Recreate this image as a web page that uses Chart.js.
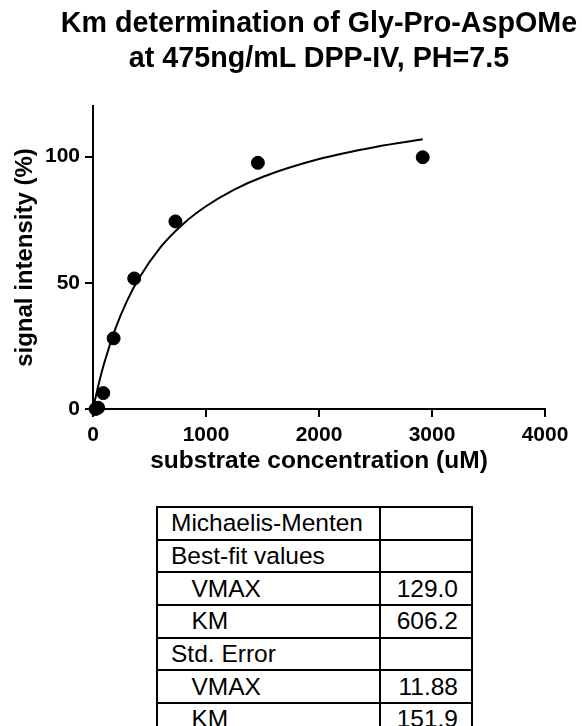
<!DOCTYPE html>
<html>
<head>
<meta charset="utf-8">
<title>Km determination of Gly-Pro-AspOMe</title>
<script src="https://cdn.jsdelivr.net/npm/chart.js@4/dist/chart.umd.min.js"></script>
<style>
    html, body {
        margin: 0;
        padding: 0;
        background: #fff;
    }
    .km-wrap {
        position: relative;
        width: 582px;
        height: 726px;
        overflow: hidden;
        font-family: 'Liberation Sans', Arial, sans-serif;
        color: #000;
    }
    /* centred over the plot area (x = 319), not over the page */
    .km-title {
        position: absolute;
        left: 28px;
        top: 4.8px;
        width: 582px;
        margin: 0;
        text-align: center;
        font-size: 28.7px;
        font-weight: bold;
        line-height: 35.5px;
        white-space: nowrap;
    }
    #km-chart {
        position: absolute;
        left: 0;
        top: 0;
    }
    .km-table {
        position: absolute;
        left: 156px;
        top: 506px;
        border-collapse: collapse;
        font-size: 24.5px;
    }
    .km-table td {
        border: 2px solid #000;
        height: 32.7px;
        box-sizing: border-box;
        padding: 0 13px;
        line-height: 28px;
        white-space: pre;
    }
    .km-table td.name { width: 223px; }
    .km-table td.value { width: 92px; text-align: right; }
</style>
</head>
<body>
<div class="km-wrap">
    <canvas id="km-chart" width="582" height="490"></canvas>
    <h1 class="km-title">Km determination of Gly-Pro-AspOMe<br>at 475ng/mL DPP-IV, PH=7.5</h1>
    <table class="km-table" id="km-table"></table>
</div>
<script>
// Measured points (substrate uM vs signal %)
const substrate = [22.8, 45.6, 91.2, 182.4, 364.8, 729.5, 1459, 2918];
const signal = [0, 0.5, 6.3, 28, 51.7, 74.3, 97.5, 99.7];

// Fitted curve
const fitX = [0, 50, 100, 200, 300, 400, 600, 800, 1000, 1250, 1500, 2000, 2500, 2918];
const fitY = [0, 9.8, 18.3, 32, 42.7, 51.3, 64.2, 73.4, 80.3, 86.9, 91.9, 99, 103.8, 106.8];

// Axis ticks
const xTicks = [0, 1000, 2000, 3000, 4000];
const yTicks = [0, 50, 100];

// Results table
const tableLabels = ['Michaelis-Menten', 'Best-fit values', '   VMAX', '   KM', 'Std. Error', '   VMAX', '   KM'];
const tableValues = ['', '', '129.0', '606.2', '', '11.88', '151.9'];

const FONT = "'Liberation Sans', Arial, sans-serif";
Chart.defaults.font.family = FONT;
Chart.defaults.color = '#000';

function toPoints(xs, ys) {
    return xs.map((x, i) => ({ x: x, y: ys[i] }));
}

function buildTable() {
    const table = document.getElementById('km-table');
    tableLabels.forEach((label, i) => {
        const row = table.insertRow();
        const nameCell = row.insertCell();
        nameCell.className = 'name';
        nameCell.textContent = label;
        const valueCell = row.insertCell();
        valueCell.className = 'value';
        valueCell.textContent = tableValues[i];
    });
}

function axisGrid() {
    // tick marks only, outside the plot
    return {
        drawOnChartArea: false,
        drawTicks: true,
        tickLength: 8,
        color: '#000',
        lineWidth: 2
    };
}

function buildChart() {
    const ctx = document.getElementById('km-chart');
    new Chart(ctx, {
        type: 'scatter',
        data: {
            datasets: [{
                label: 'data',
                data: toPoints(substrate, signal),
                backgroundColor: '#000',
                borderColor: '#000',
                pointRadius: 6.5,
                pointHoverRadius: 6.5,
                clip: false,
                order: 0
            }, {
                label: 'fit',
                data: toPoints(fitX, fitY),
                showLine: true,
                borderColor: '#000',
                borderWidth: 2,
                pointRadius: 0,
                cubicInterpolationMode: 'monotone',
                fill: false,
                order: 1
            }]
        },
        options: {
            responsive: false,
            animation: false,
            layout: {
                // top space is taken by the html title
                padding: { left: 0, right: 37, top: 106, bottom: 0 }
            },
            plugins: {
                legend: { display: false },
                tooltip: { enabled: false },
                title: { display: false }
            },
            scales: {
                x: {
                    type: 'linear',
                    min: 0,
                    max: 4000,
                    grid: axisGrid(),
                    border: { display: true, color: '#000', width: 2 },
                    ticks: {
                        font: { size: 21, weight: 'bold' },
                        color: '#000',
                        padding: 6,
                        maxRotation: 0,
                        callback: v => String(v)
                    },
                    title: {
                        display: true,
                        text: 'substrate concentration (uM)',
                        color: '#000',
                        font: { size: 24.5, weight: 'bold', lineHeight: 1.2 },
                        padding: { top: 0, bottom: 14 }
                    },
                    afterBuildTicks: scale => {
                        scale.ticks = xTicks.map(v => ({ value: v }));
                    },
                    afterFit: scale => {
                        scale.height = 81;
                        scale.paddingLeft = 0;
                        scale.paddingRight = 0;
                    }
                },
                y: {
                    type: 'linear',
                    min: 0,
                    max: 120,
                    grid: axisGrid(),
                    border: { display: true, color: '#000', width: 2 },
                    ticks: {
                        font: { size: 21, weight: 'bold' },
                        color: '#000',
                        padding: 5,
                        callback: v => String(v)
                    },
                    title: {
                        display: true,
                        text: 'signal intensity (%)',
                        color: '#000',
                        font: { size: 24, weight: 'bold', lineHeight: 1.2 },
                        padding: { top: 11, bottom: 0 }
                    },
                    afterBuildTicks: scale => {
                        scale.ticks = yTicks.map(v => ({ value: v }));
                    },
                    afterFit: scale => {
                        scale.width = 93;
                        scale.paddingTop = 0;
                        scale.paddingBottom = 0;
                    }
                }
            }
        }
    });
}

buildTable();
buildChart();
</script>
</body>
</html>
